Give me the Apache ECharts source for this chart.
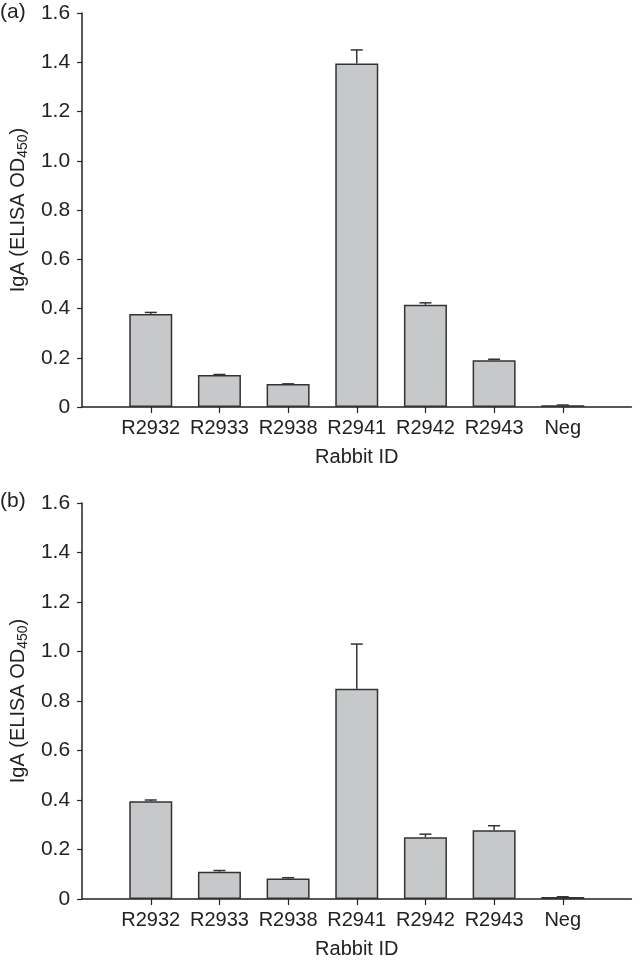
<!DOCTYPE html>
<html>
<head>
<meta charset="utf-8">
<script src="https://cdn.jsdelivr.net/npm/echarts@6/dist/echarts.min.js"></script>
<style>
  html, body { margin: 0; padding: 0; background: #fff; }
  #chart { width: 640px; height: 960px; }
</style>
</head>
<body>
<div id="chart"></div>
<script>
const categories = ['R2932', 'R2933', 'R2938', 'R2941', 'R2942', 'R2943', 'Neg'];

// panel (a)
const valuesA = [0.378, 0.130, 0.093, 1.395, 0.415, 0.190, 0.007];
const errorsA = [0.006, 0.002, 0.001, 0.055, 0.008, 0.004, 0.001];

// panel (b)
const valuesB = [0.395, 0.110, 0.083, 0.850, 0.250, 0.278, 0.008];
const errorsB = [0.005, 0.005, 0.003, 0.180, 0.012, 0.018, 0.001];

const yTicks = [0, 0.2, 0.4, 0.6, 0.8, 1.0, 1.2, 1.4, 1.6];
const panelLabels = ['(a)', '(b)'];

const font = '"Liberation Sans", Arial, sans-serif';
const ink = '#222';

// blank slots at both ends so bars sit on ticks 1..7 of 8 intervals
const axisCats = [' ', ...categories, '  '];

const chart = echarts.init(document.getElementById('chart'));

function xAxisFor(gridIndex) {
  return {
    type: 'category',
    gridIndex,
    data: axisCats,
    boundaryGap: false,
    name: 'Rabbit ID',
    nameLocation: 'middle',
    nameGap: 40,
    nameTextStyle: { color: ink, fontSize: 20, fontFamily: font },
    axisLine: { lineStyle: { color: ink, width: 1.5 } },
    axisTick: {
      length: 6,
      lineStyle: { color: ink, width: 1.2 },
      interval: (idx) => idx > 0 && idx < axisCats.length - 1,
    },
    axisLabel: {
      color: ink,
      fontSize: 20,
      fontFamily: font,
      margin: 11,
      interval: 0,
    },
    splitLine: { show: false },
  };
}

function yAxisFor(gridIndex) {
  return {
    type: 'value',
    gridIndex,
    min: yTicks[0],
    max: yTicks[yTicks.length - 1],
    interval: 0.2,
    name: '{t|IgA (ELISA OD}{s|450}{t|)}',
    nameLocation: 'middle',
    nameGap: 50,
    nameRotate: 90,
    nameTextStyle: {
      rich: {
        t: { color: ink, fontSize: 20, fontFamily: font },
        s: { color: ink, fontSize: 14, fontFamily: font, padding: [10, 0, 0, 0] },
      },
    },
    axisLine: { show: true, lineStyle: { color: ink, width: 1.5 } },
    axisTick: { show: true, length: 5, lineStyle: { color: ink, width: 1.2 } },
    axisLabel: {
      color: ink,
      fontSize: 21,
      fontFamily: font,
      margin: 12,
      formatter: (v) => (v === 0 ? '0' : v.toFixed(1)),
    },
    splitLine: { show: false },
  };
}

function barSeries(idx, values) {
  return {
    type: 'bar',
    xAxisIndex: idx,
    yAxisIndex: idx,
    barWidth: 43,
    data: categories.map((c, i) => [c, values[i]]),
    itemStyle: { color: '#c7c8ca', borderColor: '#333', borderWidth: 1.5 },
    silent: true,
  };
}

function errorSeries(idx, values, errors) {
  return {
    type: 'custom',
    xAxisIndex: idx,
    yAxisIndex: idx,
    data: categories.map((c, i) => [c, values[i], values[i] + errors[i]]),
    renderItem: (params, api) => {
      const base = api.coord([api.value(0), api.value(1)]);
      const top = api.coord([api.value(0), api.value(2)]);
      const cap = 6;
      const style = { stroke: '#333', lineWidth: 1.5 };
      return {
        type: 'group',
        children: [
          { type: 'line', shape: { x1: base[0], y1: base[1], x2: top[0], y2: top[1] }, style },
          { type: 'line', shape: { x1: top[0] - cap, y1: top[1], x2: top[0] + cap, y2: top[1] }, style },
        ],
      };
    },
    z: 3,
    silent: true,
  };
}

chart.setOption({
  backgroundColor: '#fff',
  animation: false,
  grid: [
    { left: 75, right: 0, top: 13, height: 394 },
    { left: 75, right: 0, top: 503, height: 396 },
  ],
  xAxis: [xAxisFor(0), xAxisFor(1)],
  yAxis: [yAxisFor(0), yAxisFor(1)],
  graphic: [
    { type: 'text', left: 0, top: 2, style: { text: panelLabels[0], fill: ink, fontSize: 21, fontFamily: font } },
    { type: 'text', left: 0, top: 491, style: { text: panelLabels[1], fill: ink, fontSize: 21, fontFamily: font } },
  ],
  series: [
    barSeries(0, valuesA),
    errorSeries(0, valuesA, errorsA),
    barSeries(1, valuesB),
    errorSeries(1, valuesB, errorsB),
  ],
});
</script>
</body>
</html>
